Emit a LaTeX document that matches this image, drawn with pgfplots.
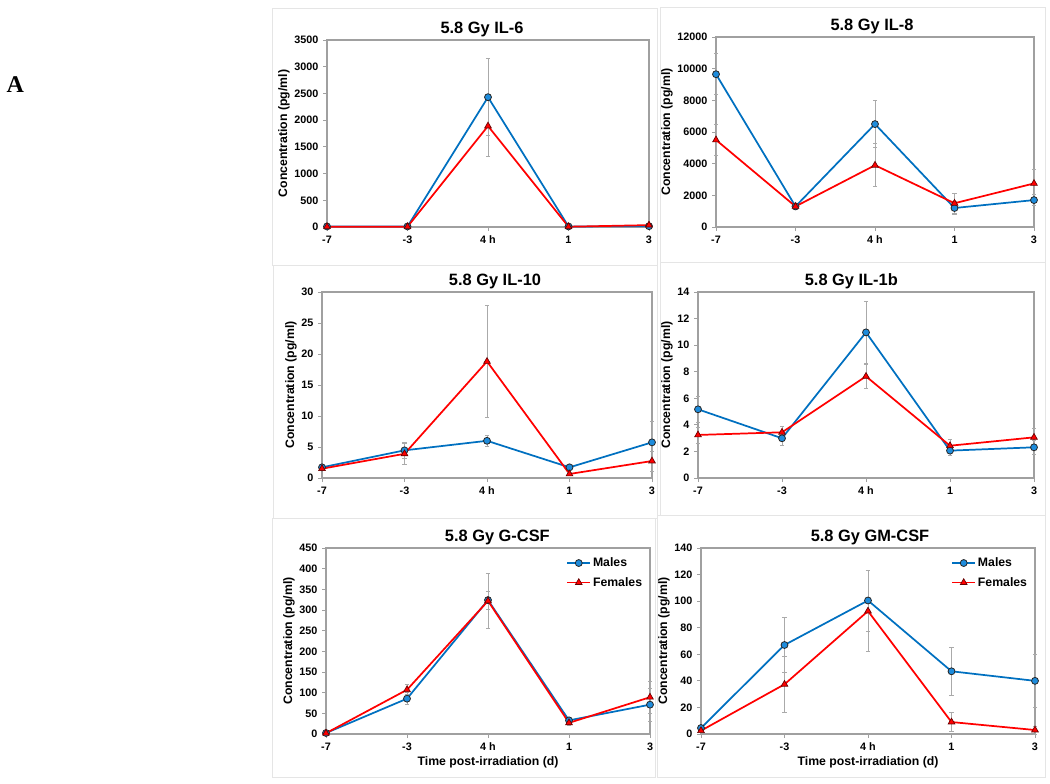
\documentclass[border=0pt]{standalone}
\usepackage{fontspec}
\setmainfont{Liberation Sans}
\newfontfamily\serifA{Liberation Serif}
\usepackage{pgfplots}
\usepackage{pgfplotstable}
\pgfplotsset{compat=1.18}
\definecolor{mblue}{RGB}{0,112,192}
\definecolor{mfill}{RGB}{30,140,220}
\definecolor{fred}{RGB}{255,0,0}
\definecolor{axgray}{RGB}{160,160,160}
\definecolor{errgray}{RGB}{170,170,170}

\pgfplotstableread{
x m me f fe
0 10 0 5 0
1 10 0 5 0
2 2430 720 1890 560
3 10 0 5 0
4 15 0 35 0
}\tILsix
\pgfplotstableread{
x m me f fe
0 9650 1300 5500 1000
1 1300 200 1300 200
2 6500 1500 3900 1350
3 1200 400 1500 650
4 1700 350 2750 900
}\tILeight
\pgfplotstableread{
x m me f fe
0 1.72 0.3 1.5 0.3
1 4.46 1.3 3.9 1.7
2 6.0 0.9 18.8 9.1
3 1.72 0.3 0.65 0.3
4 5.75 3.3 2.74 1.6
}\tILten
\pgfplotstableread{
x m me f fe
0 5.17 1.0 3.24 0.6
1 2.99 0.5 3.44 0.45
2 10.96 2.3 7.65 0.9
3 2.06 0.35 2.43 0.5
4 2.31 0.5 3.06 0.7
}\tILoneb
\pgfplotstableread{
x m me f fe
0 2.4 1 2 1
1 85.5 14 107 12
2 324 22 322 66
3 33 5 27 5
4 71 40 89 38
}\tGCSF
\pgfplotstableread{
x m me f fe
0 4.5 1 2.5 1
1 67 21 37.4 21
2 100.5 23 92.5 30.5
3 47.2 18 9 7
4 40 20 3 3
}\tGMCSF

\pgfplotsset{
  panel/.style={
    scale only axis, anchor=south west, clip=false,
    xmin=0, xmax=4, ymin=0,
    xtick={0,1,2,3,4}, xticklabels={-7,-3,4 h,1,3},
    xtick pos=bottom, ytick pos=left,
    tick align=outside, major tick length=3pt,
    axis line style={axgray, line width=0.8pt},
    tick style={axgray, line width=0.6pt},
    ticklabel style={font=\bfseries\fontsize{8.1}{9}\selectfont},
    /pgf/number format/assume math mode=true,
    /pgf/number format/1000 sep={},
    scaled y ticks=false,
    ylabel={Concentration (pg/ml)},
    ylabel style={font=\bfseries\fontsize{9.2}{10}\selectfont, yshift=-3.5pt},
    xlabel style={font=\bfseries\fontsize{9.2}{10}\selectfont, yshift=2pt},
    title style={font=\bfseries\fontsize{12.3}{14}\selectfont, yshift=-7.5pt},
    legend style={draw=none, fill=none, at={(0.995,0.975)}, anchor=north east,
      font=\bfseries\fontsize{9.2}{10}\selectfont, row sep=3.5pt,
      nodes={inner sep=1.5pt}},
    legend cell align=left,
  },
  males/.style={color=mblue, line width=1.3pt, mark=*, mark size=2.6pt,
    mark options={fill=mfill, draw=black!85, line width=0.6pt}},
  females/.style={color=fred, line width=1.3pt, mark=triangle*, mark size=2.9pt,
    mark options={fill=fred, draw=black!60!red, line width=0.5pt}},
  eb/.style={error bars/.cd, y dir=both, y explicit,
    error bar style={errgray, line width=0.6pt},
    error mark options={errgray, rotate=90, mark size=1.6pt, line width=0.6pt}},
}

\begin{document}
\begin{tikzpicture}
\path[use as bounding box] (0pt,0pt) rectangle (787.5pt,587.25pt);
% faint panel frames
\begin{scope}[draw=black!10, line width=0.6pt]
\draw (204pt,388.5pt) rectangle (492.75pt,581.25pt);
\draw (495pt,390.75pt) rectangle (783.75pt,582pt);
\draw (204.75pt,198.75pt) rectangle (492.75pt,388.5pt);
\draw (495pt,201pt) rectangle (783.75pt,390.75pt);
\draw (204pt,4.5pt) rectangle (491.25pt,198.75pt);
\draw (492.75pt,4.5pt) rectangle (783.75pt,201pt);
\end{scope}
\node[font=\serifA\bfseries\fontsize{18}{20}\selectfont] at (11.5pt,523.5pt) {A};

% IL-6
\begin{axis}[panel, at={(245.25pt,417pt)}, width=241.5pt, height=140.25pt,
  ymax=3500, ytick distance=500, title={5.8 Gy IL-6},
  title style={xshift=-4.5pt}]
\addplot[males, eb] table[x=x, y=m, y error=me] {\tILsix};
\addplot[females, eb] table[x=x, y=f, y error=fe] {\tILsix};
\end{axis}

% IL-8
\begin{axis}[panel, at={(537pt,417pt)}, width=238.5pt, height=142.5pt,
  ymax=12000, ytick distance=2000, title={5.8 Gy IL-8},
  title style={xshift=-2.25pt}]
\addplot[males, eb] table[x=x, y=m, y error=me] {\tILeight};
\addplot[females, eb] table[x=x, y=f, y error=fe] {\tILeight};
\end{axis}

% IL-10
\begin{axis}[panel, at={(241.5pt,228.75pt)}, width=247.5pt, height=139.5pt,
  ymax=30, ytick distance=5, title={5.8 Gy IL-10},
  title style={xshift=6pt}]
\addplot[males, eb] table[x=x, y=m, y error=me] {\tILten};
\addplot[females, eb] table[x=x, y=f, y error=fe] {\tILten};
\end{axis}

% IL-1b
\begin{axis}[panel, at={(523.5pt,228.75pt)}, width=252pt, height=139.5pt,
  ymax=14, ytick distance=2, title={5.8 Gy IL-1b},
  title style={xshift=-11pt}]
\addplot[males, eb] table[x=x, y=m, y error=me] {\tILoneb};
\addplot[females, eb] table[x=x, y=f, y error=fe] {\tILoneb};
\end{axis}

% G-CSF
\begin{axis}[panel, at={(244.5pt,36.75pt)}, width=243pt, height=139.5pt,
  ymax=450, ytick distance=50, title={5.8 Gy G-CSF},
  title style={xshift=7pt},
  xlabel={Time post-irradiation (d)}]
\addplot[males, eb] table[x=x, y=m, y error=me] {\tGCSF};
\addplot[females, eb] table[x=x, y=f, y error=fe] {\tGCSF};
\legend{Males, Females}
\end{axis}

% GM-CSF
\begin{axis}[panel, at={(525.75pt,36.75pt)}, width=250.5pt, height=139.5pt,
  ymax=140, ytick distance=20, title={5.8 Gy GM-CSF},
  title style={xshift=1.5pt},
  xlabel={Time post-irradiation (d)}]
\addplot[males, eb] table[x=x, y=m, y error=me] {\tGMCSF};
\addplot[females, eb] table[x=x, y=f, y error=fe] {\tGMCSF};
\legend{Males, Females}
\end{axis}
\end{tikzpicture}
\end{document}
